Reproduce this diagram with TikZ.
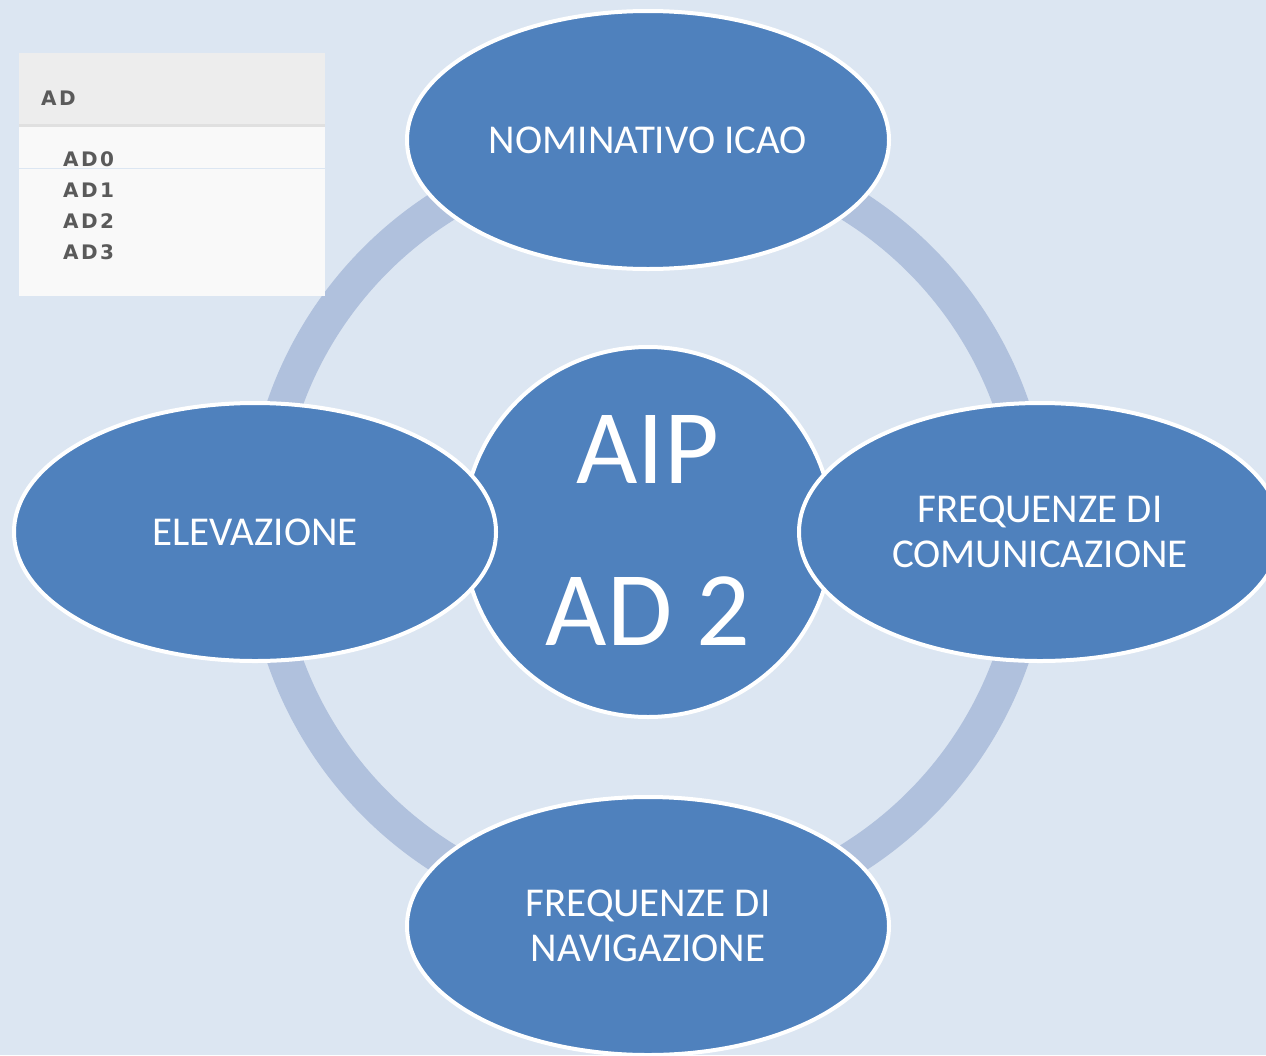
\documentclass[tikz,border=0pt]{standalone}
\usepackage{fontspec}
\setmainfont{Carlito}
\newfontfamily\menufont[LetterSpace=12]{DejaVu Sans}
\usetikzlibrary{shapes.geometric}
\definecolor{bgc}{HTML}{DCE6F2}
\definecolor{ringc}{HTML}{B0C1DD}
\definecolor{fillc}{HTML}{4F81BD}
\definecolor{hdrc}{HTML}{EDEDED}
\definecolor{bodyc}{HTML}{F9F9F9}
\definecolor{menutxt}{HTML}{5A5A5A}
\tikzset{
  blob/.style={ellipse, fill=fillc, draw=white, line width=4pt, inner sep=0pt,
    minimum width=482pt, minimum height=258pt, text=white, align=center,
    font=\fontsize{41}{45}\selectfont},
  hub/.style={circle, fill=fillc, draw=white, line width=4pt, inner sep=0pt,
    minimum size=370pt, text=white, align=center,
    font=\fontsize{106}{162}\selectfont},
  menuitem/.style={anchor=base west, inner sep=0pt, text=menutxt,
    font=\menufont\bfseries\fontsize{20}{22}\selectfont}
}
\begin{document}
\begin{tikzpicture}[x=1pt,y=-1pt]
\useasboundingbox (0,0) rectangle (1266,1055);
\clip (0,0) rectangle (1266,1055);
\fill[bgc] (0,0) rectangle (1266,1055);
% ring
\draw[ringc, line width=35pt] (648,532) circle (385pt);
% centre
\node[hub] (hub) at (648,532) {\raisebox{4pt}{AIP}\\\raisebox{4pt}{AD 2}};
% satellites
\node[blob] (top) at (648,140) {NOMINATIVO ICAO};
\node[blob] (bot) at (648,926) {FREQUENZE DI\\NAVIGAZIONE};
\node[blob] (lft) at (255,532) {ELEVAZIONE};
\node[blob] (rgt) at (1040,532) {FREQUENZE DI\\COMUNICAZIONE};
% menu box
\fill[bodyc] (19,53) rectangle (325,296);
\fill[hdrc] (19,53) rectangle (325,124);
\fill[black!12] (19,124) rectangle (325,126.5);
\draw[bgc, line width=1pt] (19,168) -- (325,168);
\node[menuitem] (mhead) at (41,105) {AD};
\node[menuitem] (m0) at (63,166) {AD0};
\node[menuitem] (m1) at (63,197) {AD1};
\node[menuitem] (m2) at (63,228) {AD2};
\node[menuitem] (m3) at (63,259) {AD3};
\end{tikzpicture}
\end{document}
